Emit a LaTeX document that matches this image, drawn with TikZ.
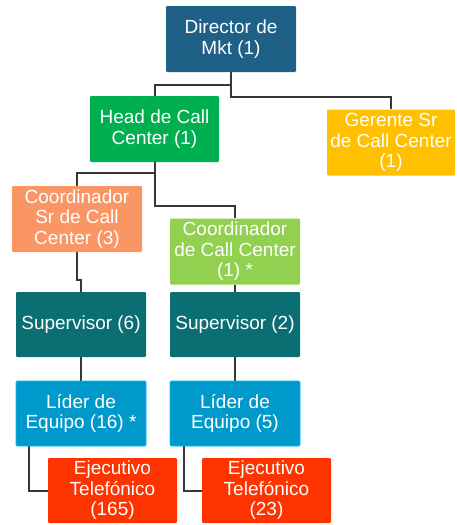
\documentclass[tikz,border=0pt]{standalone}
\usepackage{fontspec}
\setmainfont{Liberation Sans}
\usetikzlibrary{backgrounds}
\definecolor{cDir}{RGB}{31,96,135}
\definecolor{cHead}{RGB}{0,176,80}
\definecolor{cGer}{RGB}{255,192,0}
\definecolor{cCsr}{RGB}{250,150,100}
\definecolor{cCo}{RGB}{146,208,80}
\definecolor{cSup}{RGB}{10,110,115}
\definecolor{cLid}{RGB}{0,153,204}
\definecolor{cLidB}{RGB}{0,190,240}
\definecolor{cEje}{RGB}{255,51,0}
\definecolor{cLine}{RGB}{55,55,55}
\tikzset{
  box/.style={rectangle, rounded corners=1.2pt, minimum width=130pt, minimum height=66pt,
    inner sep=0pt, text=white, align=center,
    font=\fontsize{19}{20.5}\selectfont},
  conn/.style={draw=cLine, line width=2pt}
}
\begin{document}
\begin{tikzpicture}[x=1pt,y=-1pt]
\useasboundingbox (0,0) rectangle (456,525);
\node[box, fill=cDir] (dir) at (231,39) {Director de\\Mkt (1)};
\node[box, fill=cHead, minimum width=129pt] (head) at (154.5,129) {Head de Call\\Center (1)};
\node[box, fill=cGer, minimum width=128pt] (ger) at (391,142.5) {Gerente Sr\\de Call Center\\(1)};
\node[box, fill=cCsr] (csr) at (77,219) {Coordinador\\Sr de Call\\Center (3)};
\node[box, fill=cCo] (co) at (235,251.5) {Coordinador\\de Call Center\\(1) *};
\node[box, fill=cSup, minimum height=65pt] (sup6) at (81,324.5) {Supervisor (6)};
\node[box, fill=cSup, minimum height=65pt] (sup2) at (235,324.5) {Supervisor (2)};
\node[box, fill=cLid, draw=cLidB, line width=0.8pt, minimum height=65pt] (lid16) at (81,413.5) {Líder de\\Equipo (16) *};
\node[box, fill=cLid, draw=cLidB, line width=0.8pt, minimum height=65pt] (lid5) at (235,413.5) {Líder de\\Equipo (5)};
\node[box, fill=cEje, minimum width=129pt, minimum height=65pt] (eje165) at (112.5,490.5) {Ejecutivo\\Telefónico\\(165)};
\node[box, fill=cEje, minimum width=129pt, minimum height=65pt] (eje23) at (266.5,490.5) {Ejecutivo\\Telefónico\\(23)};
\coordinate (lid16out) at ([xshift=13pt]lid16.south west);
\coordinate (lid5out) at ([xshift=14pt]lid5.south west);
\begin{scope}[on background layer]
\draw[conn] (dir.south) |- (ger.north |- 0,97) -- (ger.north);
\draw[conn] (dir.south |- 0,85) -| (head.north);
\draw[conn] (head.south) |- (csr.north |- 0,173) -- (csr.north);
\draw[conn] (head.south) |- (co.north |- 0,206) -- (co.north);
\draw[conn] (csr.south) -- ++(0,28) -| (sup6.north);
\draw[conn] (co.south) -- (sup2.north);
\draw[conn] (sup6.south) -- (lid16.north);
\draw[conn] (sup2.south) -- (lid5.north);
\draw[conn] (lid16out) |- (eje165.west);
\draw[conn] (lid5out) |- (eje23.west);
\end{scope}
\end{tikzpicture}
\end{document}
